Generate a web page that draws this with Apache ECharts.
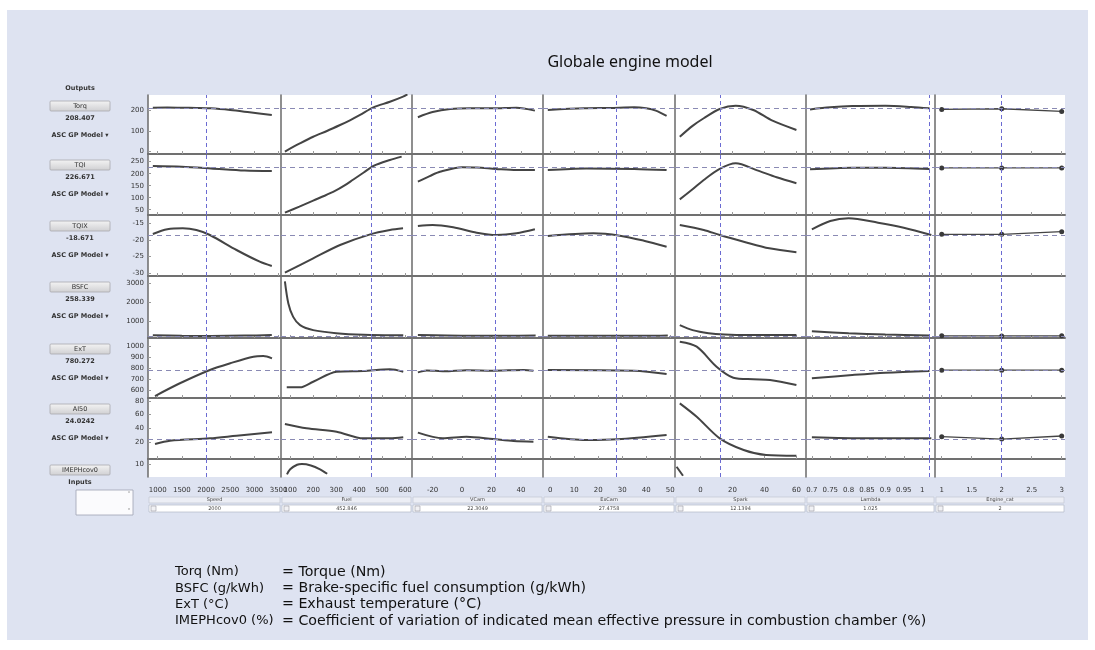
<!DOCTYPE html>
<html><head><meta charset="utf-8">
<script src="https://cdn.jsdelivr.net/npm/echarts@6/dist/echarts.min.js"></script>
<style>html,body{margin:0;padding:0;background:#fff}#c{width:1095px;height:650px}</style>
</head><body><div id="c"></div>
<script>
// ---------- data ----------
const outputNames = ['Torq','TQI','TQIX','BSFC','ExT','AI50','IMEPHcov0'];
const outputValues = [208.407, 226.671, -18.671, 258.339, 780.272, 24.0242];
const outputLabels = ['208.407','226.671','-18.671','258.339','780.272','24.0242'];
const inputNames = ['Speed','Fuel','VCam','ExCam','Spark','Lambda','Engine_cat'];
const inputValues = [2000, 452.846, 22.3049, 27.4758, 12.1394, 1.025, 2];
const inputLabels = ['2000','452.846','22.3049','27.4758','12.1394','1.025','2'];
const xTickValues = [[1000,1500,2000,2500,3000,3500],[100,200,300,400,500,600],[-20,0,20,40],[0,10,20,30,40,50],[0,20,40,60],[0.7,0.75,0.8,0.85,0.9,0.95,1],[1,1.5,2,2.5,3]];
const yTickValues = [[0,100,200],[50,100,150,200,250],[-30,-25,-20,-15],[1000,2000,3000],[600,700,800,900,1000],[20,40,60,80],[5,10]];

// curves per output row, one per input column: Speed, Fuel, VCam, ExCam, Spark, Lambda, Engine_cat
const torqCurves = [
  [[900,213],[1200,214],[1500,213],[1800,212],[2100,210],[2500,202],[2900,191],[3360,178]],
  [[77,0],[140,38],[200,72],[260,100],[317,129],[360,152],[404,178],[462,215],[534,242],[591,267],[610,278]],
  [[-30,167],[-20,192],[-8,207],[5,211],[21,210],[37,213],[49.5,199]],
  [[-1,202],[14,210],[25,212],[35,215],[40,210],[44,199],[48.5,173]],
  [[-13,72],[-5,125],[2,162],[12,207],[22,223],[33,202],[45,150],[60,105]],
  [[0.695,205],[0.75,215],[0.81,221],[0.9,223],[0.97,217],[1.02,210]],
  [[1,205],[2,208],[3,195]]
];
const tqiCurves = [
  [[900,232],[1500,229],[2100,222],[2800,213],[3360,211]],
  [[77,38],[140,63],[200,88],[250,108],[295,128],[335,150],[375,176],[420,205],[462,232],[534,257],[585,271]],
  [[-30,167],[-22,190],[-15,208],[0,227],[10,226],[23,220],[37,215],[49.5,215]],
  [[-1,215],[15,222],[35,220],[48.5,215]],
  [[-13,93],[-5,135],[2,174],[12,220],[22,243],[35,215],[47.6,185],[60,160]],
  [[0.695,218],[0.81,225],[0.9,225],[1.02,220]],
  [[1,224],[2,224],[3,224]]
];
const tqixCurves = [
  [[900,-18.2],[1200,-16.8],[1520,-16.5],[1800,-17],[2080,-18.5],[2630,-23],[3110,-26.5],[3360,-27.8]],
  [[77,-29.8],[200,-25.5],[317,-21.5],[448,-18.3],[534,-17],[591,-16.5]],
  [[-30,-15.8],[-20,-15.5],[-6,-16.2],[10,-17.8],[23.5,-18.5],[37,-18],[49.5,-16.8]],
  [[-1,-18.8],[18,-18],[29,-18.7],[39,-20.2],[48.5,-22]],
  [[-13,-15.5],[2,-17],[12,-18.5],[27,-20.5],[43,-22.5],[60,-23.7]],
  [[0.7,-16.8],[0.75,-14.3],[0.8,-13.5],[0.88,-14.8],[0.95,-16.3],[1.025,-18.5]],
  [[1,-18.3],[2,-18.3],[3,-17.5]]
];
const bsfcCurves = [
  [[900,290],[1500,265],[2100,258],[2800,275],[3360,300]],
  [[77,3100],[92,1950],[113,1250],[143,820],[200,560],[300,400],[420,320],[592,290]],
  [[-30,300],[-10,280],[10,265],[30,262],[50,275]],
  [[-1,268],[20,262],[40,265],[49,285]],
  [[-13,820],[-5,560],[5,400],[15,330],[30,300],[60,300]],
  [[0.7,500],[0.8,400],[0.9,330],[1.02,280]],
  [[1,262],[2,258],[3,262]]
];
const extCurves = [
  [[945,545],[1460,661],[2080,782],[2500,843],[2980,903],[3185,909],[3364,888]],
  [[85,624],[143,624],[200,675],[302,766],[418,773],[534,788],[592,766]],
  [[-30,760],[-24,778],[-12,770],[3,780],[21,776],[42,782],[48.5,776]],
  [[-1,782],[35,775],[48.5,745]],
  [[-13,1039],[-2.4,994],[10,812],[20.5,712],[33,697],[43.5,691],[60,645]],
  [[0.7,706],[0.81,736],[0.9,757],[1.02,773]],
  [[1,780],[2,780],[3,780]]
];
const ai50Curves = [
  [[945,17.6],[1255,22.4],[2080,25.8],[2630,29.6],[3364,34.5]],
  [[77,46.5],[171,40.3],[302,35.4],[418,25.8],[534,25.8],[592,27.3]],
  [[-30,34],[-13,25.8],[3,28.2],[21,24.8],[35,21.9],[48.5,20.9]],
  [[-1,28.2],[15,23.4],[28,24.4],[48.5,30.6]],
  [[-13,76.3],[-2.4,57],[12,25.8],[27,9],[41,1.8],[60,0.8]],
  [[0.7,27.3],[0.85,25.8],[1.025,25.8]],
  [[1,28.2],[2,24.8],[3,29.2]]
];
const imepCurves = [
  [],
  [[86,2],[100,6],[130,9.5],[151,10.1],[190,9],[230,6],[261,2.5]],
  [],
  [],
  [[-15,8],[-11,1]],
  [],
  []
];
const allCurves = [torqCurves, tqiCurves, tqixCurves, bsfcCurves, extCurves, ai50Curves, imepCurves];

// ---------- layout ----------
const colEdges = [148, 281, 412, 543, 675, 806, 935, 1065];
const rowEdges = [95, 154, 215, 276, 338, 398, 459, 477];
const xRanges = [[800,3550],[60,630],[-34,55],[-3,52],[-16,66],[0.684,1.035],[0.888,3.055]];
const yRanges = [[-12,275],[28,282],[-30.8,-12.5],[150,3380],[527,1073],[-4,84],[0,14]];

const FONT = 'DejaVu Sans';
const plain = v => String(v);
const grids = [], xAxes = [], yAxes = [], series = [];
for (let r = 0; r < 7; r++) {
  for (let c = 0; c < 7; c++) {
    const i = grids.length;
    grids.push({left: colEdges[c], top: rowEdges[r], width: colEdges[c+1]-colEdges[c], height: rowEdges[r+1]-rowEdges[r],
      show: true, backgroundColor: '#ffffff', borderWidth: 0});
    xAxes.push({type: 'value', gridIndex: i, min: xRanges[c][0], max: xRanges[c][1], splitLine: {show: false},
      axisLine: {show: r < 6, onZero: false, lineStyle: {color: '#707070', width: 2}},
      axisTick: {show: r < 6, inside: true, length: 3, customValues: xTickValues[c], lineStyle: {color: '#9a9a9a'}},
      axisLabel: {show: r === 6, customValues: xTickValues[c], formatter: plain, fontSize: 7, margin: 10, color: '#333', fontFamily: FONT}});
    yAxes.push({type: 'value', gridIndex: i, min: yRanges[r][0], max: yRanges[r][1], splitLine: {show: false},
      axisLine: {show: true, onZero: false, lineStyle: {color: '#6a6a6a', width: 1.5}},
      axisTick: {show: c === 0, inside: true, length: 3, customValues: yTickValues[r], lineStyle: {color: '#9a9a9a'}},
      axisLabel: {show: c === 0, customValues: yTickValues[r], formatter: plain, fontSize: 7, margin: 4, color: '#333', fontFamily: FONT}});
    const ml = [{xAxis: inputValues[c], lineStyle: {color: '#6b6bd2', type: [4, 3], width: 1}}];
    if (r < 6) ml.push({yAxis: outputValues[r], lineStyle: {color: '#8a8ab4', type: [5, 4], width: 1}});
    series.push({type: 'line', xAxisIndex: i, yAxisIndex: i, data: allCurves[r][c],
      showSymbol: c === 6, symbol: 'circle', symbolSize: 5, itemStyle: {color: '#3a3a3a'},
      lineStyle: {color: '#444444', width: c === 6 ? 1.3 : 2},
      smooth: c === 6 ? false : 0.3, animation: false, silent: true,
      markLine: {silent: true, symbol: 'none', label: {show: false}, animation: false, data: ml}, z: 3});
  }
}

// ---------- decorations ----------
const g = [];
g.push({type: 'rect', shape: {x: 7, y: 10, width: 1081, height: 630}, style: {fill: '#dee3f1'}, z: -10, silent: true});
g.push({type: 'text', x: 630, y: 62, style: {text: 'Globale engine model', font: '16px "Noto Sans"', fill: '#111', textAlign: 'center', textVerticalAlign: 'middle'}});
const btnX = 50, btnW = 60, cx = btnX + btnW / 2;
const small = 'bold 6.5px "DejaVu Sans"';
g.push({type: 'text', x: cx, y: 88, style: {text: 'Outputs', font: small, fill: '#333', textAlign: 'center', textVerticalAlign: 'middle'}});
function button(y, label) {
  g.push({type: 'rect', shape: {x: btnX, y: y, width: btnW, height: 10, r: 1},
    style: {fill: new echarts.graphic.LinearGradient(0, 0, 0, 1, [{offset: 0, color: '#f4f4f4'}, {offset: 1, color: '#cfcfd2'}]), stroke: '#a8a8ae', lineWidth: 0.8}});
  g.push({type: 'text', x: cx, y: y + 5, style: {text: label, font: '6.5px "DejaVu Sans"', fill: '#333', textAlign: 'center', textVerticalAlign: 'middle'}});
}
for (let r = 0; r < 7; r++) {
  const top = rowEdges[r];
  button(top + 6, outputNames[r]);
  if (r < 6) {
    g.push({type: 'text', x: cx, y: top + 23, style: {text: outputLabels[r], font: small, fill: '#333', textAlign: 'center', textVerticalAlign: 'middle'}});
    g.push({type: 'text', x: cx, y: top + 40, style: {text: 'ASC GP Model \u25BE', font: small, fill: '#333', textAlign: 'center', textVerticalAlign: 'middle'}});
  }
}
g.push({type: 'text', x: cx, y: 482, style: {text: 'Inputs', font: small, fill: '#333', textAlign: 'center', textVerticalAlign: 'middle'}});
g.push({type: 'rect', shape: {x: 76, y: 490, width: 57, height: 25}, style: {fill: '#fbfbfd', stroke: '#9ea2b2', lineWidth: 0.8}});
g.push({type: 'text', x: 129, y: 494, style: {text: '\u02C4', font: '6px "DejaVu Sans"', fill: '#666', textAlign: 'center', textVerticalAlign: 'middle'}});
g.push({type: 'text', x: 129, y: 511, style: {text: '\u02C5', font: '6px "DejaVu Sans"', fill: '#666', textAlign: 'center', textVerticalAlign: 'middle'}});
for (let c = 0; c < 7; c++) {
  const x0 = colEdges[c] + 1, w = colEdges[c+1] - colEdges[c] - 2, mx = x0 + w / 2;
  g.push({type: 'rect', shape: {x: x0, y: 497, width: w, height: 6}, style: {fill: '#eceef5', stroke: '#c3c6d2', lineWidth: 0.7}});
  g.push({type: 'text', x: mx, y: 500, style: {text: inputNames[c], font: '5px "DejaVu Sans"', fill: '#444', textAlign: 'center', textVerticalAlign: 'middle'}});
  g.push({type: 'rect', shape: {x: x0, y: 505, width: w, height: 7}, style: {fill: '#ffffff', stroke: '#b3b7c6', lineWidth: 0.7}});
  g.push({type: 'rect', shape: {x: x0 + 2, y: 506, width: 5, height: 5}, style: {fill: '#f1f1f4', stroke: '#9a9aa6', lineWidth: 0.6}});
  g.push({type: 'text', x: mx, y: 508.5, style: {text: inputLabels[c], font: '5px "DejaVu Sans"', fill: '#444', textAlign: 'center', textVerticalAlign: 'middle'}});
}
const defLeft = ['Torq (Nm)', 'BSFC (g/kWh)', 'ExT (\u00B0C)', 'IMEPHcov0 (%)'];
const defRight = ['= Torque (Nm)', '= Brake-specific fuel consumption (g/kWh)', '= Exhaust temperature (\u00B0C)',
  '= Coefficient of variation of indicated mean effective pressure in combustion chamber (%)'];
for (let k = 0; k < 4; k++) {
  const y = 572 + k * 16.3;
  g.push({type: 'text', x: 175, y: y, style: {text: defLeft[k], font: '13px "DejaVu Sans"', fill: '#111', textVerticalAlign: 'middle'}});
  g.push({type: 'text', x: 282, y: y, style: {text: defRight[k], font: '14.2px "DejaVu Sans"', fill: '#111', textVerticalAlign: 'middle'}});
}

const chart = echarts.init(document.getElementById('c'), null, {renderer: 'canvas'});
chart.setOption({backgroundColor: '#ffffff', animation: false, grid: grids, xAxis: xAxes, yAxis: yAxes, series: series, graphic: {elements: g}});
</script></body></html>
